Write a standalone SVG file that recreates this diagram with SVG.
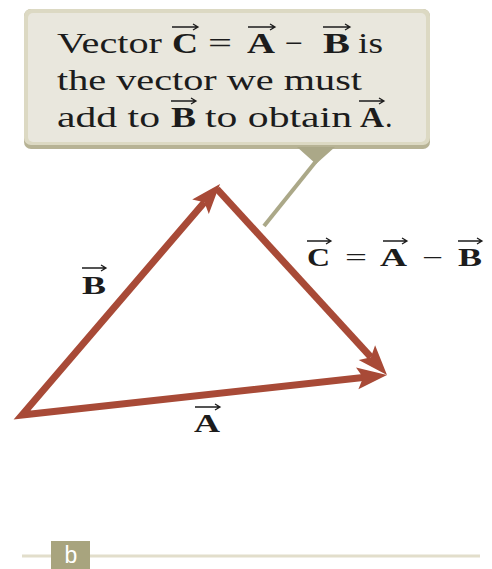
<svg xmlns="http://www.w3.org/2000/svg" width="492" height="569" viewBox="0 0 492 569">
<style>
.t{font-family:"Liberation Serif","Times New Roman",serif;font-size:30px;fill:#1c1c1c}
.b{font-weight:bold}
.l{font-family:"Liberation Serif","Times New Roman",serif;font-size:25px;fill:#1c1c1c;font-weight:bold}
.lo{font-family:"Liberation Serif","Times New Roman",serif;font-size:25px;fill:#1c1c1c}
.va{fill:none;stroke:#1c1c1c;stroke-width:1.3}
.vec{fill:none;stroke:#A84A37;stroke-width:7}
.head{fill:#A84A37}
</style>
<rect width="492" height="569" fill="#fff"/>
<g id="callout">
  <rect x="24" y="9" width="406" height="140" rx="7" fill="#B7B395"/>
  <rect x="24" y="9" width="406" height="136" rx="7" fill="#DCD9C3"/>
  <rect x="28" y="13" width="398" height="129" rx="5" fill="#E9E7DD"/>
  <polygon points="297,147 335,147 316,164" fill="#ABA888"/>
  <line x1="317" y1="160" x2="264" y2="226" stroke="#ABA888" stroke-width="4"/>
  <text class="t" x="57" y="53" textLength="105" lengthAdjust="spacingAndGlyphs">Vector</text>
  <text class="t b" x="172" y="53" textLength="26" lengthAdjust="spacingAndGlyphs">C</text>
  <text class="t" x="208" y="53" textLength="24" lengthAdjust="spacingAndGlyphs">=</text>
  <text class="t b" x="247" y="53" textLength="28" lengthAdjust="spacingAndGlyphs">A</text>
  <text class="t" x="285" y="53" textLength="18" lengthAdjust="spacingAndGlyphs">−</text>
  <text class="t b" x="323" y="53" textLength="27" lengthAdjust="spacingAndGlyphs">B</text>
  <text class="t" x="358" y="53" textLength="25" lengthAdjust="spacingAndGlyphs">is</text>
  <path class="va" d="M172 27H198M193 24L198 27L193 30"/>
  <path class="va" d="M248 27H275M270 24L275 27L270 30"/>
  <path class="va" d="M323 27H350M345 24L350 27L345 30"/>
  <text class="t" x="57" y="90" textLength="305" lengthAdjust="spacingAndGlyphs">the vector we must</text>
  <text class="t" x="57" y="127" textLength="103" lengthAdjust="spacingAndGlyphs">add to</text>
  <text class="t b" x="171" y="127" textLength="25" lengthAdjust="spacingAndGlyphs">B</text>
  <text class="t" x="205" y="127" textLength="147" lengthAdjust="spacingAndGlyphs">to obtain</text>
  <text class="t b" x="360" y="127" textLength="24" lengthAdjust="spacingAndGlyphs">A</text>
  <text class="t" x="385" y="127">.</text>
  <path class="va" d="M171 101H196M191 98L196 101L191 104"/>
  <path class="va" d="M359 101H384M379 98L384 101L379 104"/>
</g>
<g id="connectors">
  <polyline class="vec" points="204.4,202.2 22,415 363.1,377.6" stroke-linejoin="miter" stroke-miterlimit="10"/>
  <line class="vec" x1="217" y1="189" x2="370.9" y2="357.2"/>
  <polygon class="head" points="220,184 208.8,214 204.4,202.2 192.2,199.6"/>
  <polygon class="head" points="387,375 358.7,360.1 370.9,357.2 375.1,345.3"/>
  <polygon class="head" points="387,375 358.4,389.2 363.1,377.6 356,367.4"/>
</g>
<g id="label-B">
  <text class="l" x="82" y="294" textLength="24" lengthAdjust="spacingAndGlyphs">B</text>
  <path class="va" d="M82 268H106M101 265L106 268L101 271"/>
</g>
<g id="label-A">
  <text class="l" x="194" y="432" textLength="26" lengthAdjust="spacingAndGlyphs">A</text>
  <path class="va" d="M195 407H220M215 404L220 407L215 410"/>
</g>
<g id="label-C">
  <text class="l" x="307" y="266" textLength="23" lengthAdjust="spacingAndGlyphs">C</text>
  <text class="lo" x="345" y="266" textLength="22" lengthAdjust="spacingAndGlyphs">=</text>
  <text class="l" x="380" y="266" textLength="27" lengthAdjust="spacingAndGlyphs">A</text>
  <text class="lo" x="422" y="266" textLength="21" lengthAdjust="spacingAndGlyphs">−</text>
  <text class="l" x="458" y="266" textLength="24" lengthAdjust="spacingAndGlyphs">B</text>
  <path class="va" d="M307 241H331M326 238L331 241L326 244"/>
  <path class="va" d="M383 241H407M402 238L407 241L402 244"/>
  <path class="va" d="M458 241H482M477 238L482 241L477 244"/>
</g>
<g id="footer">
  <line x1="22" y1="556" x2="480" y2="556" stroke="#E2DECB" stroke-width="3"/>
  <rect x="51" y="541" width="39" height="28" fill="#A8A47E"/>
  <text x="71" y="563" text-anchor="middle" font-family="Liberation Sans, Arial, sans-serif" font-size="23" fill="#fff">b</text>
</g>
</svg>
